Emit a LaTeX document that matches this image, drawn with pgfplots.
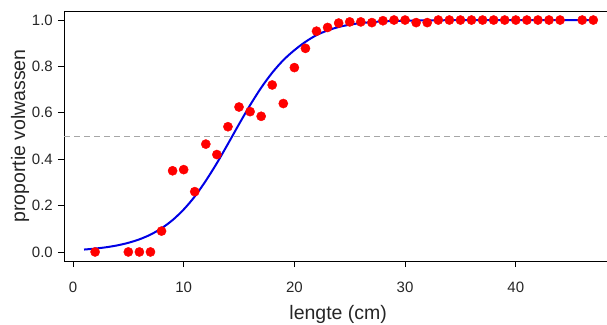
\documentclass[border=0pt]{standalone}
\usepackage{fontspec}
\setmainfont{Liberation Sans}
\usepackage{pgfplots}
\pgfplotsset{compat=1.18}
\begin{document}
\fontsize{15bp}{18bp}\selectfont
\begin{tikzpicture}
\begin{axis}[name=ax, scale only axis, width=543bp, height=250bp,
 xmin=-0.81, xmax=48.24, ymin=-0.039, ymax=1.039,
 axis x line*=bottom, axis y line*=left,
 axis line style={line width=0.8bp, black},
 tick align=outside, major tick length=6bp, tick style={line width=0.8bp, black},
 xtick={0,10,20,30,40}, xticklabels={0,10,20,30,40},
 ytick={0,0.2,0.4,0.6,0.8,1.0}, yticklabels={0.0,0.2,0.4,0.6,0.8,1.0},
 tick label style={font=\fontsize{15bp}{18bp}\selectfont, text=black!85},
 xticklabel style={yshift=-10bp},
 label style={font=\fontsize{19.5bp}{23bp}\selectfont, text=black!85},
 xlabel={lengte (cm)}, ylabel={proportie volwassen},
 xlabel style={at={(axis description cs:0.505,0)}, anchor=center, yshift=-53bp},
 ylabel style={at={(axis description cs:0,0.5)}, anchor=center, yshift=44bp},
 clip=false,
]
\coordinate (sw) at (rel axis cs:0,0);
\draw[line width=0.8bp] (rel axis cs:0,1) -- (rel axis cs:1,1);
\addplot[gray!70, dashed, line width=0.8bp, dash pattern=on 6bp off 4bp] coordinates {(-0.81,0.5) (48.24,0.5)};
\addplot[blue!90!black, line width=2bp, smooth] coordinates {
(1,0.0104) (2,0.0145) (3,0.0203) (4,0.0283) (5,0.0394) (6,0.0544) (7,0.0747)
(8,0.102) (9,0.1375) (10,0.183) (11,0.239) (12,0.307) (13,0.383) (14,0.466)
(15,0.551) (16,0.633) (17,0.708) (18,0.773) (19,0.827) (20,0.870) (21,0.906)
(22,0.935) (23,0.955) (24,0.970) (25,0.980) (26,0.987) (27,0.991) (28,0.994)
(30,0.997) (32,0.9985) (35,0.9995) (40,1.0) (47,1.0)};
\addplot[only marks, mark=*, mark size=4.6bp, color=red, mark options={fill=red, draw=red}] coordinates {
(2,0) (5,0) (6,0) (7,0) (8,0.09) (9,0.35) (10,0.355) (11,0.26) (12,0.465)
(13,0.42) (14,0.54) (15,0.625) (16,0.605) (17,0.585) (18,0.72) (19,0.64)
(20,0.795) (21,0.878) (22,0.952) (23,0.968) (24,0.987) (25,0.992) (26,0.992)
(27,0.989) (28,0.997) (29,1) (30,1) (31,0.989) (32,0.989) (33,1) (34,1)
(35,1) (36,1) (37,1) (38,1) (39,1) (40,1) (41,1) (42,1) (43,1) (44,1)
(46,1) (47,1)};
\end{axis}
\pgfresetboundingbox
\path[use as bounding box] ([xshift=-64bp,yshift=-64bp]sw) rectangle ++(607bp,325bp);
\end{tikzpicture}
\end{document}
